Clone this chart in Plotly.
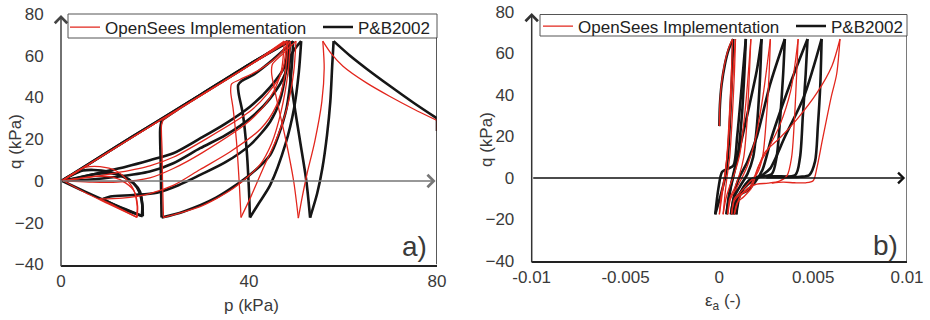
import plotly.graph_objects as go

# ---------------- data ----------------
# Stress path p-q, P&B2002 (black); list of path pieces, each piece a list of (p, q) in kPa
pb_pq = [
    [(80, 24), (80, 30)],
    [(80, 30), (75, 37.5), (70, 45.5), (65, 53.8), (61.5, 60), (58, 67)],
    [(58, 67), (57.7, 55), (57.3, 38), (56.6, 22), (55.6, 6), (54.5, -6), (53, -17.5)],
    [(53, -17.5), (52.2, 0), (50.8, 20), (49.4, 40), (48.6, 54), (48.9, 60), (50.0, 64), (51.1, 67)],
    [(51.1, 67), (50.6, 52), (49.6, 35), (47.8, 18), (44.5, -2), (42, -11), (40.2, -17.5)],
    [(40.2, -17.5), (40, -5), (39.5, 15), (38.7, 32), (37.8, 42), (37.7, 46), (38.5, 48), (41, 51), (45, 58), (49.4, 67)],
    [(49.4, 67), (49.0, 52), (48.0, 35), (46.3, 22), (44.5, 12.5), (40.2, 3), (33, -8), (26, -14.7), (21.4, -17.5)],
    [(21.4, -17.5), (21.3, -5), (21.2, 10), (21.1, 25), (21.4, 29)],
    [(21.4, 29), (25, 34.5), (30, 41.6), (35, 48.5), (40, 55.6), (44, 61.2), (48.2, 67)],
    [(48.2, 67), (47.8, 52), (46.5, 38), (44.5, 28.4), (40.2, 17.2), (35, 9), (29.6, 2.9), (25, -2),
     (20.4, -5.6), (15.4, -6.7), (10.5, -7.4), (8.9, -8.6)],
    [(8.9, -8.6), (12, -12.2), (17.2, -16.8)],
    [(17.2, -16.8), (17.3, -12), (16.8, -5), (15.5, -1.2), (13.3, 2), (10, 4.5), (7, 5.3), (4.7, 5), (2, 2.5), (0.2, 0.2)],
    [(0.2, 0.2), (10, 14), (20, 27.9), (30, 41.8), (40, 55.8), (48.5, 67)],
    [(48.5, 67), (47.6, 55), (44.5, 45), (40.2, 35.6), (35, 27.5), (29.6, 20.4), (23.9, 13.3), (18.9, 10),
     (14, 7), (8, 3.8), (3, 1.2), (0.3, 0)],
    [(0.3, 0), (5, -5), (10, -10), (17.4, -16.9)],
    [(17.4, -16.9), (17.3, -11), (16.6, -5), (15.4, -1), (13, 2.5), (10.5, 3.7), (7, 3.2), (3.5, 1.5), (0.3, 0.1)],
    [(0.3, 0.1), (10, 14), (20, 27.9), (30, 41.8), (40, 55.8), (48.8, 67)],
    [(48.8, 67), (47.8, 52), (44.5, 39.6), (40.2, 30), (35, 22), (29.6, 15.7), (23.9, 8.5), (18.9, 4.5),
     (12, 2), (5, 0.5), (0.5, 0)],
]

# Stress path p-q, OpenSees implementation (red)
os_pq = [
    [(80, 24), (80, 29)],
    [(80, 29), (75, 34.5), (70, 40.5), (65, 47), (60, 55), (57.5, 61), (55.7, 67)],
    [(55.7, 67), (56, 54), (55.5, 38), (54, 19), (52.3, 3), (51.3, -8), (50.5, -17.8)],
    [(50.5, -17.8), (49.5, 0), (47.8, 20), (46, 38), (44.8, 52), (45, 56), (47, 60.5), (50, 67)],
    [(50, 67), (49.5, 52), (48.2, 36), (46, 21), (43, 6), (40.5, -7), (38.3, -17.5)],
    [(38.3, -17.5), (37.9, 0), (37.3, 20), (36.6, 35), (36.1, 43), (36.3, 46.5), (38, 48.5), (42, 53), (46, 59.5), (48.8, 67)],
    [(48.8, 67), (48.3, 52), (46.8, 33), (44.8, 18), (42.3, 7.7), (36.7, -3.5), (29.6, -12.3), (25, -15.5), (21.8, -17.5)],
    [(21.8, -17.5), (21.6, 0), (21.5, 15), (21.4, 27), (21.8, 29.5)],
    [(21.8, 29.5), (25, 34.2), (30, 41.2), (35, 48.2), (40, 55.2), (44, 60.8), (48.3, 67)],
    [(48.3, 67), (47.6, 50), (45.8, 36), (42.5, 25), (36, 14), (29.6, 5.5), (24, -2), (18.9, -6),
     (13, -8.2), (8.2, -8.6)],
    [(8.2, -8.6), (11.5, -12), (16.1, -17.3)],
    [(16.1, -17.3), (16.2, -12), (15.4, -4), (13.5, 1.8), (11.8, 4.8), (8.3, 6.9), (5.1, 6.5), (2.5, 3.5), (0.3, 0.3)],
    [(0.3, 0.3), (10, 13.7), (20, 27.6), (30, 41.4), (40, 55.3), (48, 67)],
    [(48, 67), (47, 52), (44, 42), (40, 33), (30, 19), (24, 11.5), (18.9, 7.3), (12, 4), (6, 1.7), (0.5, 0.1)],
    [(0.5, 0.1), (5, -5.4), (10, -10.8), (16.2, -17.4)],
    [(16.2, -17.4), (16.3, -12), (15.6, -5), (13.8, -1), (11, 1.8), (7, 2.2), (3, 1), (0.4, 0.1)],
    [(0.4, 0.1), (10, 13.7), (20, 27.6), (30, 41.4), (40, 55.3), (47.5, 67)],
    [(47.5, 67), (46.8, 52), (44.5, 40), (40.2, 29), (30, 13.5), (23.9, 6), (18.9, 1.5), (12, -0.5), (6, -0.5), (1, -0.1)],
]

# Stress-strain eps_a - q, P&B2002 (black); (eps_a [-], q [kPa])
pb_eq = [
    [(0, 25), (0.03e-3, 35), (0.12e-3, 45), (0.3e-3, 55), (0.5e-3, 62), (0.74e-3, 67)],
    [(0.74e-3, 67), (0.68e-3, 50), (0.58e-3, 30), (0.45e-3, 10), (0.3e-3, 0), (0.05e-3, -9), (-0.22e-3, -17.5)],
    [(-0.22e-3, -17.5), (-0.05e-3, -5), (0.15e-3, 3), (0.45e-3, 4.5), (0.75e-3, 6), (0.95e-3, 20), (1.2e-3, 45), (1.41e-3, 67)],
    [(1.41e-3, 67), (1.33e-3, 50), (1.2e-3, 30), (1.0e-3, 12), (0.8e-3, 3), (0.6e-3, -5), (0.38e-3, -17.5)],
    [(0.38e-3, -17.5), (0.5e-3, -9), (0.75e-3, 2), (1.1e-3, 15), (1.6e-3, 35), (2.0e-3, 52), (2.25e-3, 67)],
    [(2.25e-3, 67), (2.15e-3, 45), (2.0e-3, 25), (1.8e-3, 10), (1.5e-3, 2), (1.1e-3, -4), (0.8e-3, -9), (0.62e-3, -17.5)],
    [(0.62e-3, -17.5), (0.75e-3, -10), (1.0e-3, -1), (1.5e-3, 8), (2.0e-3, 20), (2.7e-3, 45), (3.49e-3, 67)],
    [(3.49e-3, 67), (3.4e-3, 50), (3.25e-3, 30), (3.05e-3, 10), (2.8e-3, 2), (2.2e-3, 0.6), (1.6e-3, -1),
     (1.2e-3, -6), (0.9e-3, -10), (0.75e-3, -17.5)],
    [(0.75e-3, -17.5), (0.85e-3, -12), (1.1e-3, -8), (1.5e-3, -6), (1.9e-3, -2), (2.3e-3, 4), (2.8e-3, 20), (3.8e-3, 46), (4.7e-3, 67)],
    [(4.7e-3, 67), (4.6e-3, 50), (4.45e-3, 30), (4.3e-3, 10), (4.05e-3, 1.5), (3.0e-3, 0.8), (2.0e-3, 0.5),
     (1.4e-3, -3), (1.1e-3, -8), (0.9e-3, -17.5)],
    [(0.9e-3, -17.5), (1.0e-3, -10), (1.3e-3, -5), (1.8e-3, -1), (2.3e-3, 1.5), (2.7e-3, 4.5), (3.5e-3, 20), (4.5e-3, 39), (5.45e-3, 67)],
    [(5.45e-3, 67), (5.38e-3, 45), (5.25e-3, 25), (5.1e-3, 8), (4.8e-3, 1.5), (4.3e-3, 0.6), (3.2e-3, 0.4), (2.5e-3, 0.4)],
]

# Stress-strain eps_a - q, OpenSees implementation (red)
os_eq = [
    [(0, 25), (0.03e-3, 36), (0.15e-3, 48), (0.35e-3, 58), (0.55e-3, 64), (0.70e-3, 67)],
    [(0.70e-3, 67), (0.64e-3, 50), (0.52e-3, 28), (0.4e-3, 10), (0.28e-3, 0), (0.15e-3, -8), (0.0, -17.5)],
    [(0.0, -17.5), (0.1e-3, -8), (0.3e-3, 2), (0.5e-3, 20), (0.7e-3, 48), (0.86e-3, 67)],
    [(0.86e-3, 67), (0.8e-3, 50), (0.68e-3, 28), (0.55e-3, 10), (0.4e-3, 0), (0.3e-3, -8), (0.2e-3, -17.5)],
    [(0.2e-3, -17.5), (0.35e-3, -10), (0.55e-3, -4), (0.8e-3, 2), (1.1e-3, 12), (1.4e-3, 35), (1.68e-3, 67)],
    [(1.68e-3, 67), (1.6e-3, 50), (1.48e-3, 28), (1.3e-3, 10), (1.05e-3, 1), (0.8e-3, -5), (0.55e-3, -10), (0.45e-3, -17.5)],
    [(0.45e-3, -17.5), (0.6e-3, -10), (0.9e-3, -5), (1.2e-3, 0), (1.5e-3, 6), (1.9e-3, 18), (2.3e-3, 38), (2.72e-3, 67)],
    [(2.72e-3, 67), (2.65e-3, 50), (2.5e-3, 28), (2.3e-3, 10), (2.0e-3, 2), (1.6e-3, -2), (1.3e-3, -5),
     (1.0e-3, -8), (0.8e-3, -10), (0.65e-3, -17.5)],
    [(0.65e-3, -17.5), (0.8e-3, -11), (1.1e-3, -8), (1.5e-3, -6), (1.8e-3, -1), (2.1e-3, 6), (2.6e-3, 14),
     (3.2e-3, 25), (3.8e-3, 42), (4.2e-3, 67)],
    [(4.2e-3, 67), (4.12e-3, 50), (4.0e-3, 28), (3.85e-3, 10), (3.6e-3, 1), (3.2e-3, -1.5), (2.6e-3, -2.5),
     (2.0e-3, -3), (1.5e-3, -5), (1.1e-3, -9), (0.8e-3, -17.5)],
    [(0.8e-3, -17.5), (0.95e-3, -12), (1.3e-3, -9), (1.7e-3, -5), (2.0e-3, 3), (2.4e-3, 12), (3.3e-3, 20),
     (4.2e-3, 29), (5.2e-3, 41), (6.0e-3, 54), (6.43e-3, 67)],
    [(6.43e-3, 67), (6.25e-3, 50), (5.96e-3, 39), (5.5e-3, 18.7), (5.2e-3, 5), (5.0e-3, -1.3), (4.6e-3, -2.3),
     (4.0e-3, -2.3), (3.4e-3, -2), (2.8e-3, -2.5)],
]

series_names = ["OpenSees Implementation", "P&B2002"]
p_ticks = [0, 40, 80]
q_ticks = [-40, -20, 0, 20, 40, 60, 80]
eps_ticks = [-0.01, -0.005, 0, 0.005, 0.01]
eps_ticktext = ["-0.01", "-0.005", "0", "0.005", "0.01"]

# ---------------- figure ----------------
W, H = 930, 320
FONT = "Liberation Sans, Arial, sans-serif"
RED = "#e2261d"
BLACK = "#161616"
TXT = "#3a3a3a"


def px_x(px):
    return px / W


def px_y(py):
    return 1 - py / H


def flatten(pieces):
    xs, ys = [], []
    for piece in pieces:
        for a, b in piece:
            xs.append(a)
            ys.append(b)
        xs.append(None)
        ys.append(None)
    return xs, ys


fig = go.Figure()

for pieces, color, width, name, rank, xa, ya, leg in [
    (pb_pq, BLACK, 2.6, series_names[1], 2, "x", "y", "legend"),
    (os_pq, RED, 1.3, series_names[0], 1, "x", "y", "legend"),
    (pb_eq, BLACK, 2.6, series_names[1], 2, "x2", "y2", "legend2"),
    (os_eq, RED, 1.3, series_names[0], 1, "x2", "y2", "legend2"),
]:
    xs, ys = flatten(pieces)
    fig.add_trace(go.Scatter(
        x=xs, y=ys, mode="lines", name=name, legendrank=rank, legend=leg,
        xaxis=xa, yaxis=ya, connectgaps=False,
        line=dict(color=color, width=width, shape="spline", smoothing=0.8),
        hoverinfo="skip",
    ))

L = dict(x0=61, x1=437, y0=14, y1=264.5)
R = dict(x0=531.7, x1=907, y0=12, y1=261)

common_x = dict(showgrid=False, zeroline=False, showline=True, linecolor="#222", linewidth=1.5,
                ticks="", tickfont=dict(family=FONT, size=17, color=TXT), fixedrange=True)
common_y = dict(showgrid=False, zeroline=False, showline=False,
                ticks="outside", ticklen=13, tickcolor="rgba(0,0,0,0)",
                tickfont=dict(family=FONT, size=17, color=TXT), fixedrange=True,
                range=[-40, 80], tickvals=q_ticks)

leg_common = dict(xanchor="left", yanchor="top", orientation="h",
                  bgcolor="rgba(0,0,0,0)", borderwidth=0, entrywidth=208, entrywidthmode="pixels",
                  font=dict(family=FONT, size=17, color="#222"), itemclick=False, itemdoubleclick=False)

fig.update_layout(
    width=W, height=H, margin=dict(l=0, r=0, t=0, b=0, autoexpand=False),
    paper_bgcolor="white", plot_bgcolor="white",
    font=dict(family=FONT, size=17, color=TXT),
    xaxis=dict(domain=[px_x(L["x0"]), px_x(L["x1"])], range=[0, 80], tickvals=p_ticks, anchor="y", **common_x),
    yaxis=dict(domain=[px_y(L["y1"]), px_y(L["y0"])], anchor="x", **common_y),
    xaxis2=dict(domain=[px_x(R["x0"]), px_x(R["x1"])], range=[-0.01, 0.01], tickvals=eps_ticks,
                ticktext=eps_ticktext, anchor="y2", **common_x),
    yaxis2=dict(domain=[px_y(R["y1"]), px_y(R["y0"])], anchor="x2", **common_y),
    showlegend=True,
    legend=dict(x=px_x(65), y=px_y(9.5), **leg_common),
    legend2=dict(x=px_x(538), y=px_y(8.5), **leg_common),
)

shapes = []
# legend boxes
for x0, x1, y0, y1 in [(68, 437, 14, 38), (540, 907, 14.5, 36)]:
    shapes.append(dict(type="rect", xref="paper", yref="paper", x0=px_x(x0), x1=px_x(x1),
                       y0=px_y(y1), y1=px_y(y0), line=dict(color="#555", width=1), fillcolor="white",
                       layer="below"))
# right frame lines
shapes.append(dict(type="line", xref="x", yref="y", x0=80, x1=80, y0=-40, y1=68.6,
                   line=dict(color="#222", width=1.5)))
shapes.append(dict(type="line", xref="x2", yref="y2", x0=0.01, x1=0.01, y0=-40, y1=68.5,
                   line=dict(color="#222", width=1.2)))
fig.update_layout(shapes=shapes)

ann = []
# axis arrows
ann.append(dict(xref="x", yref="y", axref="x", ayref="y", x=79.7, y=0, ax=0, ay=0, text="",
                showarrow=True, arrowhead=4, arrowsize=1.6, arrowwidth=1.5, arrowcolor="#777"))
ann.append(dict(xref="x", yref="y", axref="x", ayref="y", x=0, y=79.5, ax=0, ay=-41.5, text="",
                showarrow=True, arrowhead=4, arrowsize=1.6, arrowwidth=1.5, arrowcolor="#444"))
ann.append(dict(xref="x2", yref="y2", axref="x2", ayref="y2", x=0.0099, y=0, ax=-0.01, ay=0, text="",
                showarrow=True, arrowhead=4, arrowsize=1.6, arrowwidth=1.3, arrowcolor="#111"))
ann.append(dict(xref="x2", yref="y2", axref="x2", ayref="y2", x=-0.01, y=79.5, ax=-0.01, ay=-41.5, text="",
                showarrow=True, arrowhead=4, arrowsize=1.6, arrowwidth=1.5, arrowcolor="#333"))
# axis titles and panel labels
for text, x, y, ang, size in [
    ("p (kPa)", 251, 305, 0, 17),
    ("q (kPa)", 15, 142, -90, 17),
    ("q (kPa)", 486, 140, -90, 17),
    ("ε<sub>a</sub> (-)", 723, 302, 0, 17),
    ("a)", 414, 246, 0, 28),
    ("b)", 885, 245, 0, 28),
]:
    ann.append(dict(xref="paper", yref="paper", x=px_x(x), y=px_y(y), text=text, showarrow=False,
                    textangle=ang, xanchor="center", yanchor="middle",
                    font=dict(family=FONT, size=size, color=TXT)))
fig.update_layout(annotations=ann)

fig.write_html("out.html")
